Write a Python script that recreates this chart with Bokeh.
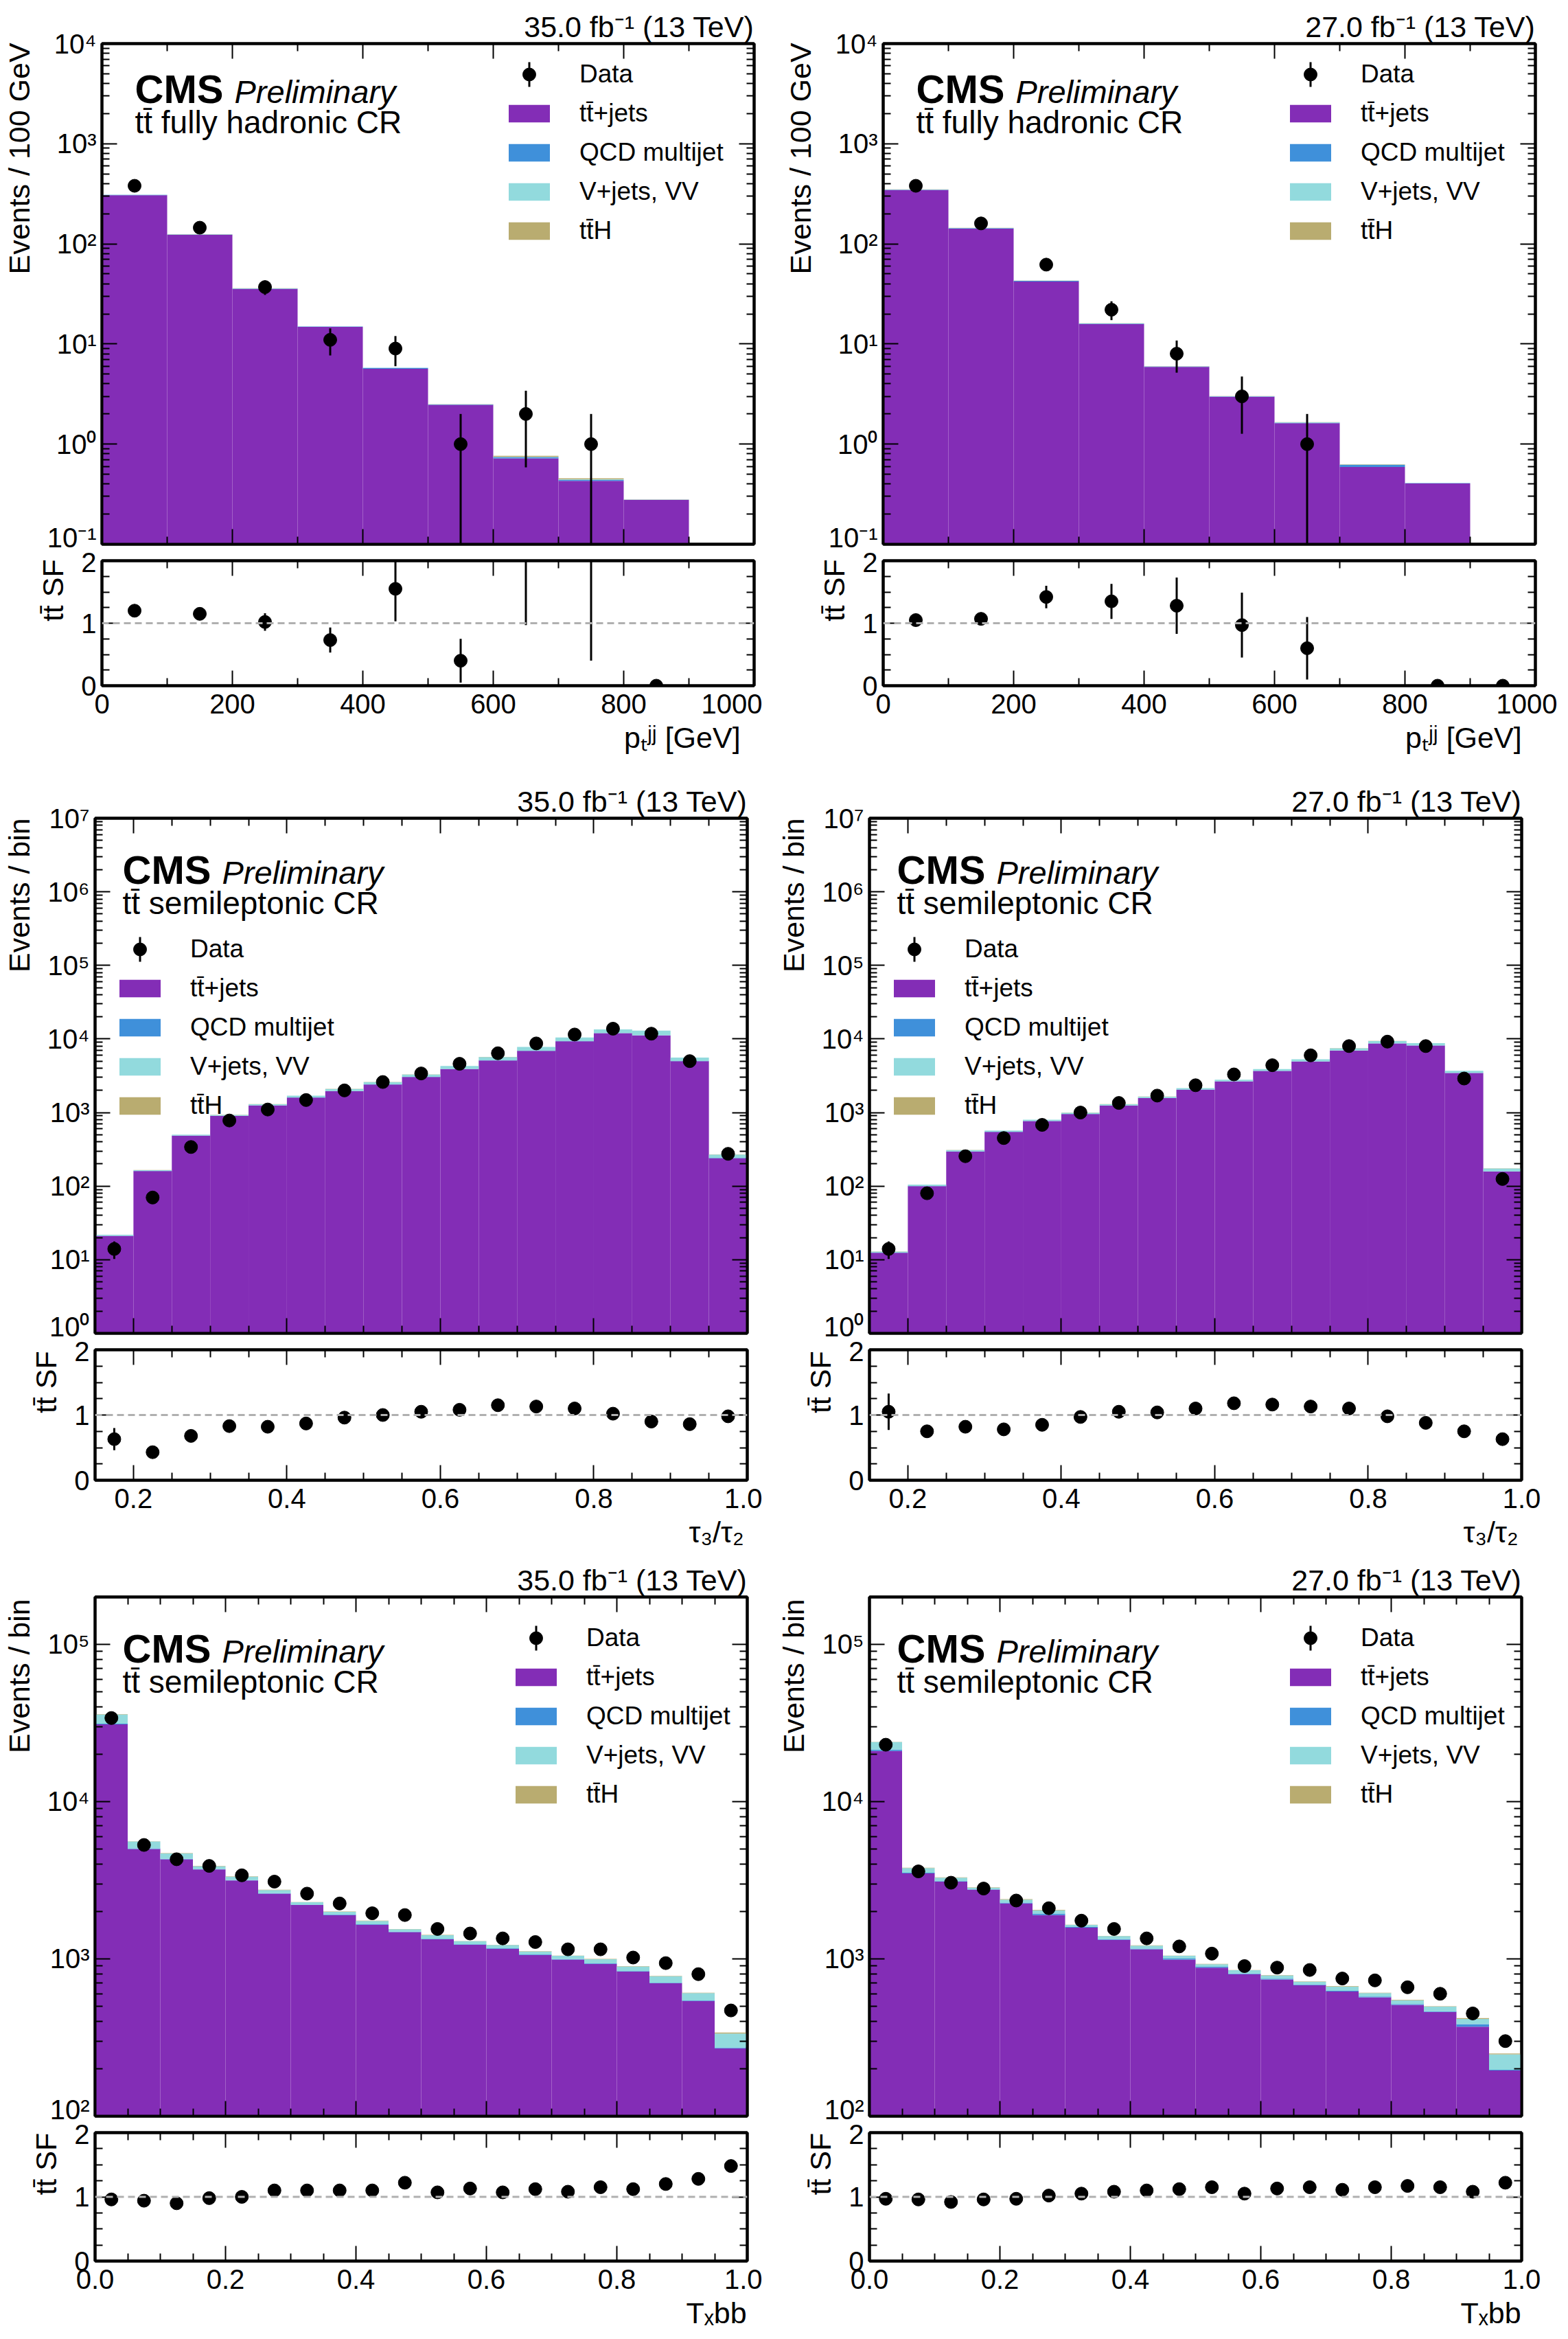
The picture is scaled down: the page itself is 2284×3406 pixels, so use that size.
import math
from bokeh.plotting import figure
from bokeh.models import (Range1d, FixedTicker, CustomJSTickFormatter, LinearAxis, LogAxis,
                          Label, Span, Legend, LegendItem, ColumnDataSource, Title, Spacer)
from bokeh.layouts import column, row
from bokeh.embed import file_html
from bokeh.resources import INLINE

# ---------------- data ----------------
PT_EDGES = [0, 100, 200, 300, 400, 500, 600, 700, 800, 900, 1000]
TAU_EDGES = [0.15 + 0.05 * i for i in range(18)]
TXBB_EDGES = [0.05 * i for i in range(21)]

# Panel 1: pT jj, 35.0 fb-1
P1_TT = [306, 123, 35.4, 14.8, 5.65, 2.47, 0.72, 0.43, 0.277, 0]
P1_QCD = [2.0, 1.0, 0.4, 0.15, 0.12, 0.02, 0.02, 0.01, 0.001, 0]
P1_VV = [1.5, 0.6, 0.15, 0.04, 0.02, 0.01, 0.005, 0.005, 0.001, 0]
P1_TTH = [0.8, 0.4, 0.1, 0.03, 0.01, 0.01, 0.02, 0.01, 0.001, 0]
P1_DATA = [380, 145, 37, 11, 9, 1, 2, 1, 0, 0]
P1_SF = [1.2, 1.15, 1.02, 0.73, 1.55, 0.4, 2.67, 2.2, 0, None]
P1_SFERR = [0.07, 0.08, 0.14, 0.2, 0.52, 0.35, 1.7, 1.8, 0, 0]

# Panel 2: pT jj, 27.0 fb-1
P2_TT = [345, 142, 42, 15.8, 5.9, 2.97, 1.62, 0.59, 0.405, 0]
P2_QCD = [2.5, 1.5, 0.7, 0.15, 0.05, 0.02, 0.02, 0.03, 0.002, 0]
P2_VV = [1.5, 0.8, 0.2, 0.1, 0.03, 0.02, 0.01, 0.005, 0.002, 0]
P2_TTH = [0.8, 0.4, 0.1, 0.05, 0.02, 0.01, 0.005, 0.005, 0.001, 0]
P2_DATA = [380, 160, 62, 22, 8, 3, 1, 0, 0, 0]
P2_SF = [1.05, 1.07, 1.42, 1.35, 1.28, 0.97, 0.6, None, 0, 0]
P2_SFERR = [0.04, 0.05, 0.18, 0.28, 0.45, 0.52, 0.5, 0, 0, 0]

# Panel 3: tau3/tau2, 35.0 fb-1
P3_TT = [21, 160, 485, 900, 1250, 1600, 1950, 2400, 3050, 3900, 5100, 6900, 9300, 12000, 11200, 5000, 240]
P3_QCD = [0.2, 1, 3, 5, 8, 10, 12, 15, 20, 25, 30, 40, 50, 60, 60, 30, 2]
P3_VV = [0.6, 4, 12, 25, 40, 85, 130, 180, 220, 370, 560, 850, 1130, 1420, 1720, 560, 27]
P3_TTH = [0.1, 0.5, 1, 2, 3, 4, 5, 6, 8, 10, 12, 15, 20, 25, 25, 10, 1]
P3_DATA = [14, 70, 340, 780, 1100, 1480, 2000, 2600, 3400, 4600, 6400, 8700, 11500, 13800, 11800, 5000, 275]
P3_SF = [0.63, 0.43, 0.68, 0.83, 0.82, 0.87, 0.96, 1.0, 1.05, 1.08, 1.15, 1.13, 1.1, 1.02, 0.9, 0.86, 0.98]
P3_SFERR = [0.17, 0.04, 0.03, 0.02, 0.02, 0.02, 0.02, 0.02, 0.02, 0.02, 0.02, 0.02, 0.02, 0.02, 0.02, 0.02, 0.04]

# Panel 4: tau3/tau2, 27.0 fb-1
P4_TT = [12.4, 100, 295, 545, 765, 955, 1240, 1570, 2040, 2650, 3680, 4950, 6950, 8700, 8150, 3450, 158]
P4_QCD = [0.1, 0.6, 2, 3, 5, 6, 8, 10, 12, 15, 20, 25, 35, 40, 40, 20, 1]
P4_VV = [0.4, 4, 12, 21, 28, 36, 48, 66, 94, 127, 190, 310, 495, 640, 590, 220, 15]
P4_TTH = [0.1, 0.4, 1, 1, 2, 3, 4, 4, 4, 8, 10, 15, 20, 20, 20, 10, 1]
P4_DATA = [14, 80, 255, 450, 680, 1000, 1350, 1700, 2350, 3300, 4400, 6000, 8000, 9200, 8000, 2900, 125]
P4_SF = [1.05, 0.75, 0.82, 0.78, 0.85, 0.97, 1.05, 1.04, 1.1, 1.18, 1.16, 1.13, 1.1, 0.98, 0.88, 0.75, 0.63]
P4_SFERR = [0.28, 0.04, 0.03, 0.02, 0.02, 0.02, 0.02, 0.02, 0.02, 0.02, 0.02, 0.02, 0.02, 0.02, 0.02, 0.02, 0.04]

# Panel 5: TXbb, 35.0 fb-1
P5_TT = [31000, 5000, 4300, 3700, 3150, 2600, 2200, 1900, 1650, 1480, 1330, 1230, 1160, 1060, 990, 930, 830, 700, 540, 270]
P5_QCD = [300, 40, 30, 25, 20, 18, 15, 15, 12, 10, 10, 8, 8, 7, 7, 6, 6, 5, 4, 3]
P5_VV = [4500, 540, 350, 160, 160, 120, 75, 75, 80, 55, 75, 57, 57, 48, 48, 58, 60, 70, 62, 62]
P5_TTH = [200, 20, 20, 15, 20, 12, 10, 10, 8, 5, 5, 5, 5, 5, 5, 6, 4, 5, 4, 5]
P5_DATA = [34000, 5300, 4300, 3900, 3400, 3100, 2600, 2250, 1950, 1900, 1550, 1450, 1350, 1280, 1150, 1150, 1020, 940, 800, 470]
P5_SF = [0.96, 0.94, 0.9, 0.98, 1.0, 1.1, 1.1, 1.1, 1.1, 1.22, 1.07, 1.13, 1.07, 1.12, 1.08, 1.15, 1.12, 1.2, 1.28, 1.48]

# Panel 6: TXbb, 27.0 fb-1
P6_TT = [21000, 3500, 3100, 2750, 2250, 1900, 1580, 1320, 1150, 990, 880, 800, 740, 680, 620, 570, 510, 460, 370, 195]
P6_QCD = [400, 30, 25, 20, 30, 40, 15, 15, 12, 15, 10, 8, 8, 7, 7, 6, 6, 5, 15, 2]
P6_VV = [2500, 250, 160, 70, 100, 95, 50, 60, 50, 40, 35, 38, 37, 28, 38, 30, 30, 32, 30, 50]
P6_TTH = [100, 20, 15, 10, 20, 15, 5, 5, 8, 5, 5, 4, 5, 5, 5, 4, 4, 3, 5, 3]
P6_DATA = [23000, 3600, 3050, 2800, 2350, 2100, 1750, 1550, 1350, 1200, 1080, 900, 880, 850, 750, 730, 660, 600, 450, 300]
P6_SF = [0.97, 0.96, 0.92, 0.96, 0.97, 1.02, 1.05, 1.08, 1.1, 1.12, 1.15, 1.05, 1.13, 1.15, 1.11, 1.15, 1.17, 1.15, 1.08, 1.22]

LEGEND_LABELS = ["Data", "tt̄+jets", "QCD multijet", "V+jets, VV", "tt̄H"]
COLORS = ["#832db6", "#3f90da", "#92dadd", "#b9ac70"]
FONT = "Liberation Sans"
NB = "\u00a0"

SUP = """const s={'-':'\u207b','0':'\u2070','1':'\u00b9','2':'\u00b2','3':'\u00b3','4':'\u2074','5':'\u2075','6':'\u2076','7':'\u2077','8':'\u2078','9':'\u2079'};
const e=Math.round(Math.log10(tick)); return '10'+String(e).split('').map(c=>s[c]).join('');"""


def style_axis(ax, labels=True):
    ax.major_tick_in = 22
    ax.major_tick_out = 0
    ax.minor_tick_in = 11
    ax.minor_tick_out = 0
    ax.axis_line_width = 4
    ax.major_tick_line_width = 2
    ax.minor_tick_line_width = 2
    ax.major_label_text_font = FONT
    ax.major_label_text_color = "black"
    ax.axis_label_text_font = FONT
    ax.axis_label_text_font_size = "43px"
    ax.axis_label_text_font_style = "normal"
    ax.axis_label_text_color = "black"
    if labels:
        ax.major_label_text_font_size = "40px"
        ax.major_label_standoff = 8
    else:
        ax.major_label_text_font_size = "2px"
        ax.major_label_text_alpha = 0
        ax.major_label_standoff = 0


def make_panel(edges, tt, qcd, vv, tth, data, sf, sferr, ymin, ymax, xmajor, xminor, xlo, xhi,
               kind, lumi, sub, ylabel, xlabel, legend_xy, text_x, text_top, dims):
    left, right, top_main, fh_main, fh_ratio, bot_ratio = dims
    lo = edges[:-1]
    hi = edges[1:]
    centers = [(a + b) / 2 for a, b in zip(lo, hi)]
    p = figure(x_range=Range1d(xlo, xhi), y_range=Range1d(ymin, ymax), y_axis_type="log",
               frame_width=950, frame_height=fh_main, output_backend="svg",
               toolbar_location=None, min_border_left=left, min_border_right=right,
               min_border_top=top_main, min_border_bottom=12)
    p.grid.visible = False
    p.outline_line_color = "black"
    p.outline_line_width = 4
    bottom = [ymin] * len(tt)
    rends = []
    for comp, c in zip([tt, qcd, vv, tth], COLORS):
        top = [(b + v) if b > ymin else v for b, v in zip(bottom, comp)]
        top = [t if t > ymin else ymin for t in top]
        src = ColumnDataSource(dict(l=lo, r=hi, b=bottom, t=top))
        r = p.quad(left="l", right="r", bottom="b", top="t", source=src, fill_color=c,
                   line_color=None)
        rends.append(r)
        bottom = top
    dx, dy, e0, e1 = [], [], [], []
    for x, n in zip(centers, data):
        if n > 0:
            dx.append(x); dy.append(n)
            e0.append(max(n - math.sqrt(n), ymin)); e1.append(n + math.sqrt(n))
    p.segment(x0=dx, x1=dx, y0=e0, y1=e1, line_color="black", line_width=3)
    p.scatter(dx, dy, size=19, color="black")

    # legend marker for "Data": a dot with a vertical bar, placed at the legend's first row
    lx, ly = legend_xy
    sx = lx + 37.5
    sy = ly + 270 - 21
    ly0, ly1 = math.log10(ymin), math.log10(ymax)
    to_x = lambda s: xlo + s / 950 * (xhi - xlo)
    to_y = lambda s: 10 ** (ly0 + s / fh_main * (ly1 - ly0))
    p.segment(x0=[to_x(sx)], x1=[to_x(sx)], y0=[to_y(sy - 18)], y1=[to_y(sy + 18)],
              line_color="black", line_width=3)
    p.scatter([to_x(sx)], [to_y(sy)], size=19, color="black")
    lg_blank = p.scatter(x=[xlo - 1e6 * (xhi - xlo)], y=[ymin], size=1, alpha=0)
    items = [LegendItem(label=LEGEND_LABELS[0], renderers=[lg_blank])]
    for lab, r in zip(LEGEND_LABELS[1:], rends):
        items.append(LegendItem(label=lab, renderers=[r]))
    leg = Legend(items=items, location=legend_xy, background_fill_alpha=0,
                 border_line_alpha=0, label_text_font=FONT, label_text_font_size="37px",
                 label_text_color="black",
                 glyph_width=75, glyph_height=32, label_height=42, spacing=15,
                 label_standoff=36, padding=0, margin=0)
    p.add_layout(leg, "center")
    decs = list(range(int(round(math.log10(ymin))), int(math.floor(math.log10(ymax) + 1e-9)) + 1))
    majors = [10.0 ** d for d in decs]
    minors = [m * 10.0 ** d for d in range(decs[0], decs[-1] + 1) for m in range(2, 10)
              if m * 10.0 ** d < ymax]
    yt = FixedTicker(ticks=majors, minor_ticks=minors)
    p.yaxis.ticker = yt
    p.yaxis.formatter = CustomJSTickFormatter(code=SUP)
    style_axis(p.yaxis[0])
    p.yaxis.axis_label = ylabel
    p.yaxis.axis_label_standoff = 14
    xt = FixedTicker(ticks=xmajor, minor_ticks=xminor)
    p.xaxis.ticker = xt
    style_axis(p.xaxis[0], labels=False)
    ra = LogAxis(ticker=yt); style_axis(ra, labels=False); p.add_layout(ra, "right")
    ta = LinearAxis(ticker=xt); style_axis(ta, labels=False); p.add_layout(ta, "above")
    p.add_layout(Title(text=lumi, align="right", text_font=FONT, text_font_size="43px",
                       text_font_style="normal", text_color="black", standoff=2, offset=0),
                 "above")
    cy = fh_main - text_top
    p.add_layout(Label(x=text_x, y=cy, x_units="screen", y_units="screen", text="CMS",
                       text_baseline="top", text_font=FONT, text_font_size="58px",
                       text_font_style="bold", text_color="black"))
    p.add_layout(Label(x=text_x + 145, y=cy - 10, x_units="screen", y_units="screen",
                       text="Preliminary", text_baseline="top", text_font=FONT,
                       text_font_size="47px", text_font_style="italic", text_color="black"))
    p.add_layout(Label(x=text_x, y=cy - 55, x_units="screen", y_units="screen", text=sub,
                       text_baseline="top", text_font=FONT, text_font_size="46px",
                       text_color="black"))

    q = figure(x_range=p.x_range, y_range=Range1d(0, 2), frame_width=950, frame_height=fh_ratio,
               output_backend="svg", toolbar_location=None, min_border_left=left,
               min_border_right=right, min_border_top=12, min_border_bottom=bot_ratio)
    q.grid.visible = False
    q.outline_line_color = "black"
    q.outline_line_width = 4
    q.add_layout(Span(location=1, dimension="width", line_color="#b0b0b0", line_width=3,
                      line_dash="10 6"))
    rx, ry, r0, r1 = [], [], [], []
    for x, v, e in zip(centers, sf, sferr):
        if v is None:
            continue
        rx.append(x); ry.append(v); r0.append(v - e); r1.append(v + e)
    q.segment(x0=rx, x1=rx, y0=r0, y1=r1, line_color="black", line_width=3)
    q.scatter(rx, ry, size=19, color="black")
    qyt = FixedTicker(ticks=[0, 1, 2], minor_ticks=[0.25, 0.5, 0.75, 1.25, 1.5, 1.75])
    q.yaxis.ticker = qyt
    style_axis(q.yaxis[0])
    q.yaxis.axis_label = NB * 8 + "tt̄ SF"
    q.yaxis.axis_label_standoff = 14
    q.xaxis.ticker = xt
    if kind == "pt":
        q.xaxis.formatter = CustomJSTickFormatter(code="return String(Math.round(tick));")
    else:
        q.xaxis.formatter = CustomJSTickFormatter(code="return tick.toFixed(1);")
    style_axis(q.xaxis[0])
    q.xaxis.major_label_standoff = 12
    q.xaxis.axis_label = xlabel
    q.xaxis.axis_label_standoff = 8
    ra2 = LinearAxis(ticker=qyt); style_axis(ra2, labels=False); q.add_layout(ra2, "right")
    ta2 = LinearAxis(ticker=xt); style_axis(ta2, labels=False); q.add_layout(ta2, "above")
    return p, q


PT_MAJ = [0, 200, 400, 600, 800, 1000]
PT_MIN = [100, 300, 500, 700, 900]
F_MAJ = [0.0, 0.2, 0.4, 0.6, 0.8, 1.0]
F_MIN = [round(0.05 * i, 2) for i in range(21) if i % 4 != 0]

D1L = (120, 40, 57, 729, 182, 120)
D1R = (130, 50, 57, 729, 182, 120)
D2L = (120, 40, 57, 750, 190, 105)
D2R = (130, 50, 57, 750, 190, 105)
D3L = (120, 40, 57, 756, 187, 80)
D3R = (130, 50, 57, 756, 187, 80)

LUMI35 = "35.0 fb⁻¹ (13 TeV)"
LUMI27 = "27.0 fb⁻¹ (13 TeV)"
SUB_HAD = "tt̄ fully hadronic CR"
SUB_SEMI = "tt̄ semileptonic CR"
YL_PT = NB * 33 + "Events / 100 GeV"
YL_BIN = NB * 44 + "Events / bin"
XL_PT = NB * 62 + "pₜʲʲ [GeV]"
XL_TAU = NB * 72 + "τ₃/τ₂"
XL_TX = NB * 72 + "Tₓbb"

a1, b1 = make_panel(PT_EDGES, P1_TT, P1_QCD, P1_VV, P1_TTH, P1_DATA, P1_SF, P1_SFERR, 0.1, 1e4,
                    PT_MAJ, PT_MIN, 0, 1000, "pt", LUMI35, SUB_HAD, YL_PT, XL_PT,
                    (585, 435), 48, 33, D1L)
a2, b2 = make_panel(PT_EDGES, P2_TT, P2_QCD, P2_VV, P2_TTH, P2_DATA, P2_SF, P2_SFERR, 0.1, 1e4,
                    PT_MAJ, PT_MIN, 0, 1000, "pt", LUMI27, SUB_HAD, YL_PT, XL_PT,
                    (585, 435), 48, 33, D1R)
a3, b3 = make_panel(TAU_EDGES, P3_TT, P3_QCD, P3_VV, P3_TTH, P3_DATA, P3_SF, P3_SFERR, 1, 1e7,
                    F_MAJ[1:], F_MIN[2:], 0.15, 1.0, "tau", LUMI35, SUB_SEMI, YL_BIN, XL_TAU,
                    (28, 310), 40, 42, D2L)
a4, b4 = make_panel(TAU_EDGES, P4_TT, P4_QCD, P4_VV, P4_TTH, P4_DATA, P4_SF, P4_SFERR, 1, 1e7,
                    F_MAJ[1:], F_MIN[2:], 0.15, 1.0, "tau", LUMI27, SUB_SEMI, YL_BIN, XL_TAU,
                    (28, 310), 40, 42, D2R)
ZERO = [0.02] * 20
a5, b5 = make_panel(TXBB_EDGES, P5_TT, P5_QCD, P5_VV, P5_TTH, P5_DATA, P5_SF, ZERO, 100, 2e5,
                    F_MAJ, F_MIN, 0.0, 1.0, "txbb", LUMI35, SUB_SEMI, YL_BIN, XL_TX,
                    (605, 447), 40, 42, D3L)
a6, b6 = make_panel(TXBB_EDGES, P6_TT, P6_QCD, P6_VV, P6_TTH, P6_DATA, P6_SF, ZERO, 100, 2e5,
                    F_MAJ, F_MIN, 0.0, 1.0, "txbb", LUMI27, SUB_SEMI, YL_BIN, XL_TX,
                    (605, 447), 40, 42, D3R)

layout = column(Spacer(height=6),
                row(column(a1, b1, spacing=0), column(a2, b2, spacing=0), spacing=0),
                Spacer(height=16),
                row(column(a3, b3, spacing=0), column(a4, b4, spacing=0), spacing=0),
                Spacer(height=8),
                row(column(a5, b5, spacing=0), column(a6, b6, spacing=0), spacing=0),
                spacing=0)
open("out.html", "w").write(file_html(layout, INLINE))
